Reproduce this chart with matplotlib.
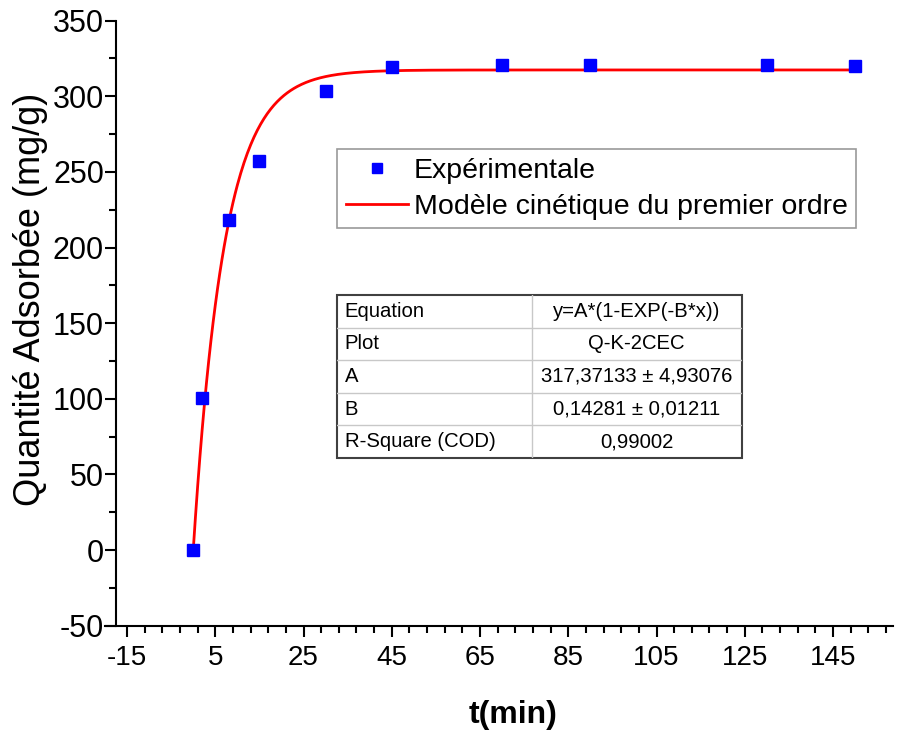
import numpy as np
import matplotlib
matplotlib.use("Agg")
import matplotlib.pyplot as plt
from matplotlib.ticker import FixedLocator, MultipleLocator

plt.rcParams['font.family'] = ['Liberation Sans', 'DejaVu Sans']
plt.rcParams['axes.unicode_minus'] = False

# experimental points
t_min = [0, 2, 8, 15, 30, 45, 70, 90, 130, 150]
q_ads = [0, 100.5, 218, 257, 303.5, 319.5, 320.8, 320.8, 320.8, 320]

# first order kinetic fit parameters
A = 317.37133
B = 0.14281

table_keys = ["Equation", "Plot", "A", "B", "R-Square (COD)"]
table_vals = ["y=A*(1-EXP(-B*x))", "Q-K-2CEC", "317,37133 ± 4,93076",
              "0,14281 ± 0,01211", "0,99002"]

W, H = 901, 733
fig = plt.figure(figsize=(W / 100, H / 100), dpi=100)
ax = fig.add_axes([105 / W, 107.3 / H, 788 / W, 605.1 / H])

t_fit = np.linspace(0, 150, 600)
q_fit = A * (1 - np.exp(-B * t_fit))

ax.plot(t_min, q_ads, 's', color='#0000ff', ms=8, mec='#0000ff',
        label='Expérimentale', zorder=3)
ax.plot(t_fit, q_fit, '-', color='#ff0000', lw=2,
        label='Modèle cinétique du premier ordre', zorder=2)

ax.set_xlim(-20, 158.6)
ax.set_ylim(-50, 350)

for s in ['top', 'right']:
    ax.spines[s].set_visible(False)
for s in ['left', 'bottom']:
    ax.spines[s].set_linewidth(1.5)
ax.spines['left'].set_position(('data', -17.4))

ax.xaxis.set_major_locator(FixedLocator(np.arange(-15, 146, 20)))
ax.xaxis.set_minor_locator(FixedLocator(np.arange(-15, 158, 4)))
ax.yaxis.set_major_locator(MultipleLocator(50))
ax.yaxis.set_minor_locator(MultipleLocator(25))

ax.tick_params(axis='x', which='major', direction='out', length=8, width=1.5,
               labelsize=20, pad=6)
ax.tick_params(axis='y', which='major', direction='out', length=8, width=1.5,
               labelsize=22, pad=1)
ax.tick_params(which='minor', direction='out', length=5, width=1.5)

ax.set_xlabel('t(min)', fontsize=23, fontweight='bold')
ax.xaxis.set_label_coords(0.518, -0.123)
ax.set_ylabel('Quantité Adsorbée (mg/g)', fontsize=26)
ax.yaxis.set_label_coords(-0.072, 0.54)

leg = ax.legend(loc='upper left', bbox_to_anchor=(0.2944, 0.7878),
                borderaxespad=0, fontsize=20.5, frameon=True, fancybox=False,
                handlelength=2.2, handletextpad=0.2, borderpad=0.3,
                labelspacing=0.35, markerscale=0.95)
leg.get_frame().set_edgecolor('#808080')
leg.get_frame().set_linewidth(1.2)

# parameter table
tax = fig.add_axes([336.7 / W, (H - 458) / H, 405 / W, 163 / H])
tax.set_xlim(0, 1)
tax.set_ylim(0, 1)
tax.axis('off')
col_split = 195 / 405
n = len(table_keys)
for i in range(1, n):
    tax.axhline(i / n, color='#c8c8c8', lw=1.0)
tax.axvline(col_split, color='#c8c8c8', lw=1.0)
tax.add_patch(plt.Rectangle((0, 0), 1, 1, fill=False, ec='#404040', lw=1.5,
                            transform=tax.transAxes, clip_on=False))
for i, (k, v) in enumerate(zip(table_keys, table_vals)):
    yc = 1 - (i + 0.5) / n
    tax.text(0.02, yc, k, fontsize=14.6, ha='left', va='center')
    tax.text((1 + col_split) / 2, yc, v, fontsize=14.6, ha='center', va='center')

fig.savefig('out.png', dpi=100)
